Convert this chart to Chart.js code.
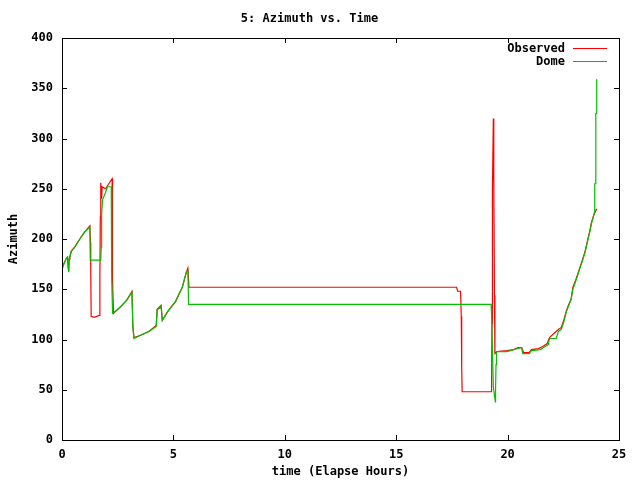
<html>
    <head>
        <script src="https://cdn.jsdelivr.net/npm/chart.js"></script>
        <style>
            body { margin: 0; background: #fff; }
            canvas { display: block; }
        </style>
    </head>
    <body>
        <canvas id="azimuth" width="640" height="480"></canvas>
    </body>
    <script>
        // tick values
        const xTicks = [0, 5, 10, 15, 20, 25];
        const yTicks = [0, 50, 100, 150, 200, 250, 300, 350, 400];

        // Observed (red)
        const obsTime = [0, 0.05, 0.2, 0.25, 0.28, 0.3, 0.32, 0.35, 0.42, 0.57, 0.8, 1.02, 1.25, 1.28, 1.29, 1.31, 1.45, 1.67, 1.70, 1.72, 1.74, 1.76, 1.78, 1.80, 1.95, 2.1, 2.25, 2.27, 2.31, 2.6, 2.9, 3.14, 3.18, 3.23, 3.5, 3.9, 4.23, 4.27, 4.45, 4.5, 4.75, 5.1, 5.4, 5.58, 5.65, 5.70,
            17.71, 17.76, 17.89, 17.92, 17.94, 17.96, 19.28, 19.30, 19.32, 19.36, 19.38, 19.41, 19.43, 19.52, 19.97, 20.27, 20.47, 20.63, 20.72, 20.97, 21.07, 21.38, 21.58, 21.78, 21.88, 22.08, 22.28, 22.41, 22.53, 22.63, 22.73, 22.85, 22.93, 23.07, 23.22, 23.37, 23.48, 23.58, 23.69, 23.76, 23.84, 23.93, 24.0];
        const obsAz = [170, 174, 181, 182, 172, 168, 180, 182, 188, 192, 200, 207, 213, 196, 169, 123, 122, 124, 160, 222, 256, 248, 240, 252, 250, 255, 260, 159, 126, 132, 139, 148, 113, 102, 104, 108, 114, 130, 134, 119, 128, 138, 152, 167, 171, 152,
            152, 148, 148, 123, 73, 48, 48, 116, 250, 320, 260, 144, 86, 88, 89, 90, 92, 92, 87, 87, 90, 91, 93, 96, 102, 106, 110, 112, 120, 128, 134, 140, 152, 160, 170, 180, 188, 198, 208, 216, 222, 227, 230];

        // Dome (green)
        const domeTime = [0, 0.05, 0.2, 0.25, 0.28, 0.3, 0.32, 0.35, 0.42, 0.57, 0.8, 1.02, 1.25, 1.27, 1.74, 1.76, 1.78, 1.82, 1.95, 2.04, 2.21, 2.23, 2.27, 2.6, 2.9, 3.14, 3.18, 3.23, 3.5, 3.9, 4.23, 4.27, 4.4, 4.45, 4.5, 4.75, 5.1, 5.4, 5.58, 5.65, 5.68,
            19.26, 19.28, 19.32, 19.36, 19.45, 19.46, 19.48, 19.50, 19.97, 20.47, 20.63, 20.68, 20.97, 21.07, 21.48, 21.68, 21.83, 21.88, 22.18, 22.28, 22.41, 22.53, 22.63, 22.73, 22.85, 22.93, 23.07, 23.22, 23.37, 23.48, 23.58, 23.69, 23.76, 23.84, 23.89, 23.91, 23.95, 23.96, 23.99, 24.0];
        const domeAz = [169, 173, 181, 182, 172, 167, 180, 182, 188, 192, 200, 207, 212, 179, 179, 192, 225, 239, 246, 252, 252, 161, 126, 132, 139, 147, 113, 101, 104, 108, 113, 130, 131, 133, 119, 128, 138, 152, 167, 169, 135,
            135, 124, 90, 53, 38, 51, 75, 88, 88, 91, 92, 86, 86, 89, 90, 93, 95, 101, 101, 108, 110, 118, 127, 133, 140, 150, 159, 169, 179, 187, 197, 207, 215, 221, 226, 255, 255, 325, 325, 359];

        const FONT = { family: 'DejaVu Sans Mono', size: 12, weight: 'bold' };

        function toPoints(ts, vs){
            return ts.map((t, i) => ({ x: t, y: vs[i] }));
        }

        // frame, inward tick marks and gnuplot style key
        const gnuplotFrame = {
            id: 'gnuplotFrame',
            afterDraw(chart){
                const ctx = chart.ctx;
                const a = chart.chartArea;
                const xs = chart.scales.x;
                const ys = chart.scales.y;
                ctx.save();
                ctx.strokeStyle = '#000';
                ctx.lineWidth = 1;
                ctx.beginPath();
                xTicks.forEach(v => {
                    const px = Math.round(xs.getPixelForValue(v)) + 0.5;
                    ctx.moveTo(px, a.bottom); ctx.lineTo(px, a.bottom - 5);
                    ctx.moveTo(px, a.top); ctx.lineTo(px, a.top + 5);
                });
                yTicks.forEach(v => {
                    const py = Math.round(ys.getPixelForValue(v)) + 0.5;
                    ctx.moveTo(a.left, py); ctx.lineTo(a.left + 5, py);
                    ctx.moveTo(a.right, py); ctx.lineTo(a.right - 5, py);
                });
                ctx.stroke();
                ctx.strokeRect(Math.round(a.left) + 0.5, Math.round(a.top) + 0.5, Math.round(a.right - a.left), Math.round(a.bottom - a.top));

                // key
                ctx.font = 'bold 12px "DejaVu Sans Mono"';
                ctx.textAlign = 'right';
                ctx.textBaseline = 'middle';
                ctx.fillStyle = '#000';
                chart.data.datasets.forEach((ds, i) => {
                    const y = 48.5 + i * 13;
                    ctx.fillText(ds.label, 565, y);
                    ctx.strokeStyle = ds.borderColor;
                    ctx.beginPath();
                    ctx.moveTo(573, y); ctx.lineTo(607, y);
                    ctx.stroke();
                });
                ctx.restore();
            }
        };

        function azimuthChart(){
            const ctx = document.getElementById('azimuth');
            const data = {
                datasets: [{
                    label: 'Observed',
                    data: toPoints(obsTime, obsAz),
                    borderColor: '#ff0000',
                    borderWidth: 1.2,
                    pointRadius: 0,
                    tension: 0,
                    order: 1
                },
                {
                    label: 'Dome',
                    data: toPoints(domeTime, domeAz),
                    borderColor: '#00c000',
                    borderWidth: 1.2,
                    pointRadius: 0,
                    tension: 0,
                    order: 0
                }]
            };

            const config = {
                type: 'line',
                data: data,
                options: {
                    responsive: false,
                    animation: false,
                    devicePixelRatio: 1,
                    layout: {
                        padding: { left: 0, right: 21, top: 0, bottom: 0 }
                    },
                    scales: {
                        x: {
                            type: 'linear',
                            min: 0,
                            max: 25,
                            afterFit: s => { s.height = 40; },
                            afterBuildTicks: s => { s.ticks = xTicks.map(v => ({ value: v })); },
                            ticks: { font: FONT, color: '#000', padding: 8, maxRotation: 0 },
                            grid: { display: false, drawTicks: false },
                            border: { display: false },
                            title: {
                                display: true,
                                text: 'time (Elapse Hours)',
                                font: FONT,
                                color: '#000',
                                padding: { top: 0, bottom: 1 }
                            }
                        },
                        y: {
                            min: 0,
                            max: 400,
                            afterFit: s => { s.width = 62; },
                            afterBuildTicks: s => { s.ticks = yTicks.map(v => ({ value: v })); },
                            ticks: { font: FONT, color: '#000', padding: 9 },
                            grid: { display: false, drawTicks: false },
                            border: { display: false },
                            title: {
                                display: true,
                                text: 'Azimuth',
                                font: FONT,
                                color: '#000',
                                padding: { top: 7, bottom: 0 }
                            }
                        }
                    },
                    plugins: {
                        legend: { display: false },
                        tooltip: { enabled: false },
                        title: {
                            display: true,
                            text: '5: Azimuth vs. Time',
                            font: FONT,
                            color: '#000',
                            padding: { top: 12, bottom: 11.6 }
                        }
                    }
                },
                plugins: [gnuplotFrame]
            };

            new Chart(ctx, config);
        }
        azimuthChart();
    </script>
</html>
